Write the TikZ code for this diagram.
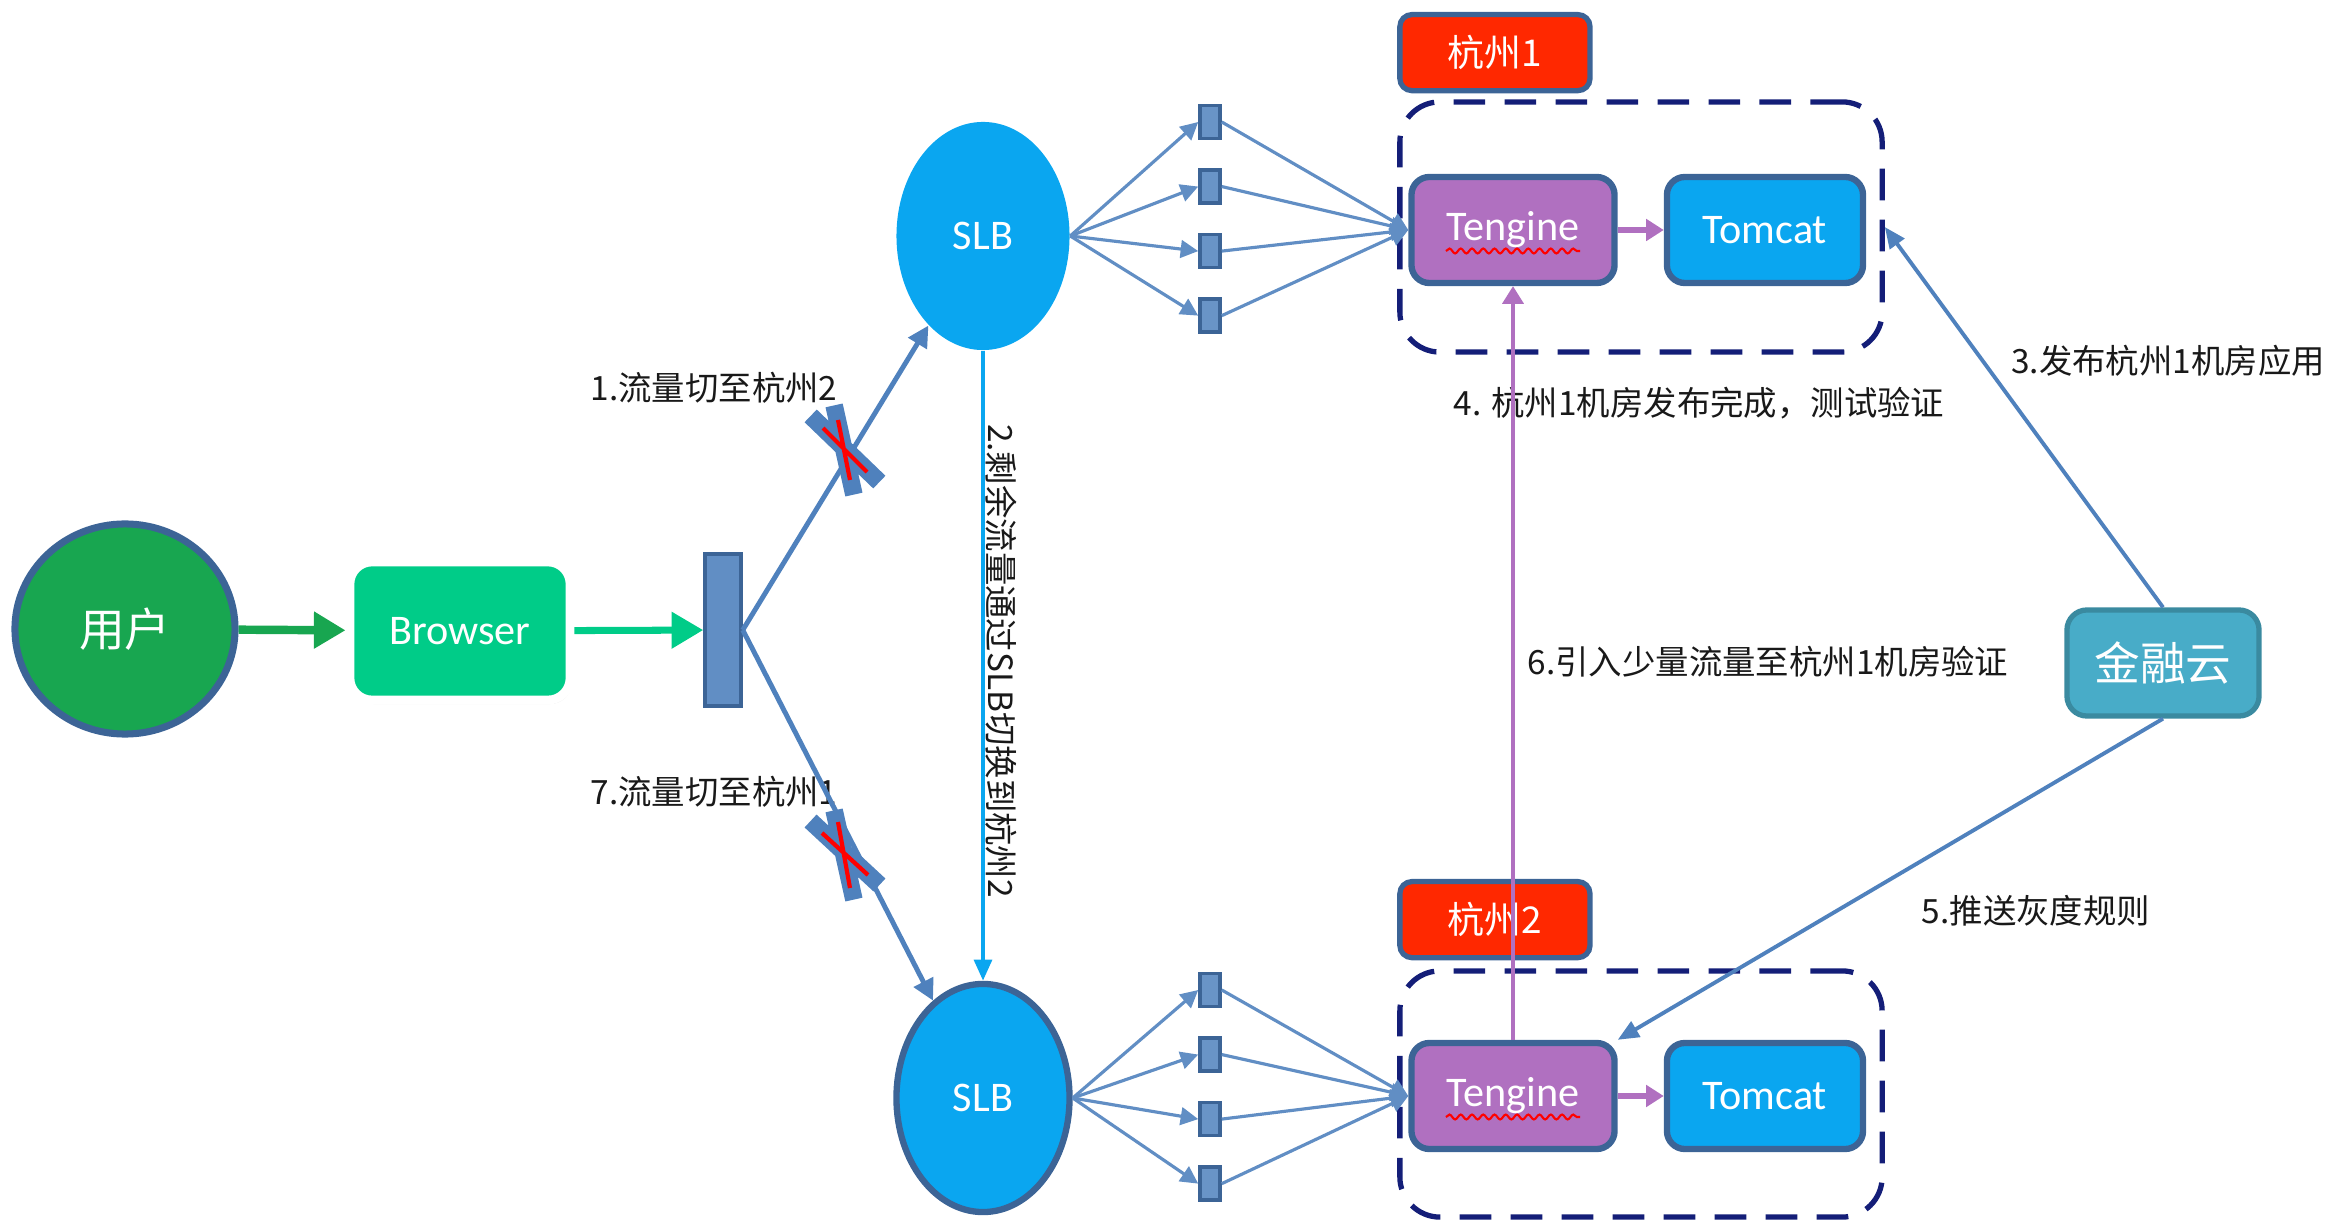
\documentclass[tikz,border=0pt]{standalone}
\usepackage{fontspec}
\setmainfont{Carlito}
\newfontfamily\cjk{Noto Sans CJK SC}
\usepackage{xcolor}
\usepackage{tikz}
\usetikzlibrary{positioning, shapes.geometric, arrows.meta, shadows, decorations.pathmorphing}

\definecolor{userGreen}{RGB}{24,166,80}
\definecolor{mint}{RGB}{0,204,136}
\definecolor{steel}{RGB}{79,129,189}
\definecolor{steelDark}{RGB}{60,100,150}
\definecolor{slbBlue}{RGB}{10,166,240}
\definecolor{navyDash}{RGB}{20,30,120}
\definecolor{tagRed}{RGB}{255,40,0}
\definecolor{tenginePurple}{RGB}{176,112,192}
\definecolor{cloudTeal}{RGB}{72,172,200}

\begin{document}
\begin{tikzpicture}[x=0.01cm, y=-0.01cm, node distance=0.28cm,
    every node/.style={font=\fontsize{12}{14}\selectfont},
    usernode/.style={ellipse, draw=steelDark, line width=2pt, fill=userGreen, text=white, minimum width=2.2cm, minimum height=2.1cm, font=\cjk\fontsize{13}{15}\selectfont},
    browsernode/.style={rectangle, rounded corners=0.22cm, draw=white, line width=2.5pt, fill=mint, text=white, minimum width=2.2cm, minimum height=1.38cm, drop shadow={opacity=0.18, shadow xshift=0.02cm, shadow yshift=-0.04cm}},
    splitter/.style={rectangle, draw=steelDark, line width=1pt, fill=steel!90!white, minimum width=0.36cm, minimum height=1.52cm},
    slbnode/.style={ellipse, fill=slbBlue, text=white, minimum width=1.73cm, minimum height=2.28cm},
    port/.style={rectangle, draw=steelDark, line width=1pt, fill=steel!85!white, minimum width=0.2cm, minimum height=0.33cm, inner sep=0pt},
    zone/.style={rectangle, rounded corners=0.4cm, draw=navyDash, line width=1.5pt, dash pattern=on 9pt off 5.5pt, minimum width=4.82cm},
    sitetag/.style={rectangle, rounded corners=0.12cm, draw=steelDark, line width=1.5pt, fill=tagRed, text=white, minimum width=1.9cm, minimum height=0.76cm, font=\cjk\fontsize{10.5}{12}\selectfont},
    tenginenode/.style={rectangle, rounded corners=0.18cm, draw=steelDark, line width=1.8pt, fill=tenginePurple, text=white, minimum width=2.03cm, minimum height=1.06cm},
    tomcatnode/.style={tenginenode, fill=slbBlue, minimum width=1.96cm},
    cloudnode/.style={rectangle, rounded corners=0.2cm, draw=cloudTeal!80!black, line width=1.5pt, fill=cloudTeal, text=white, minimum width=1.92cm, minimum height=1.06cm, font=\cjk\fontsize{13}{15}\selectfont},
    notetext/.style={font=\cjk\fontsize{9.5}{11}\selectfont, text=black!90},
    greenarrow/.style={-{Triangle[length=9pt, width=10pt]}, line width=2.4pt},
    flowline/.style={-{Triangle[length=6pt, width=6pt]}, line width=1.4pt, steel},
    fanline/.style={-{Triangle[length=5pt, width=5pt]}, line width=0.9pt, steel!90!white},
    purplearrow/.style={-{Triangle[length=5pt, width=6pt]}, tenginePurple},
    cloudarrow/.style={-{Triangle[length=6pt, width=5pt]}, line width=1.1pt, steel},
    cutbar/.style={steel, line width=5pt, line cap=rect},
    cutx/.style={red, line width=1.2pt},
    squiggle/.style={red, line width=0.6pt, decorate, decoration={snake, segment length=3.2pt, amplitude=0.7pt}}]

    \useasboundingbox (0,0) rectangle (2342,1225);

    % Zones
    \node[zone, minimum height=2.5cm] (zoneA) at (1641,227) {};
    \node[zone, minimum height=2.46cm] (zoneB) at (1641,1094) {};
    \node[sitetag] (tagA) [above right=0.06cm and 0cm of zoneA.north west] {杭州1};
    \node[sitetag] (tagB) [above right=0.08cm and 0cm of zoneB.north west] {杭州2};

    % Nodes
    \node[usernode] (user) at (125,629) {用户};
    \node[browsernode] (browser) at (460,631) {Browser};
    \node[splitter] (bar) at (723,630) {};
    \node[slbnode] (slbA) at (983,236) {SLB};
    \node[slbnode, draw=steelDark, line width=1.8pt] (slbB) at (983,1098) {SLB};

    \node[port] (pa1) at (1210,122) {};
    \node[port] (pa2) [below=of pa1] {};
    \node[port] (pa3) [below=of pa2] {};
    \node[port] (pa4) [below=of pa3] {};
    \node[port] (pb1) at (1210,990) {};
    \node[port] (pb2) [below=of pb1] {};
    \node[port] (pb3) [below=of pb2] {};
    \node[port] (pb4) [below=of pb3] {};

    \node[tenginenode] (tengineA) at (1513,230) {Tengine};
    \node[tomcatnode] (tomcatA) [right=0.46cm of tengineA] {Tomcat};
    \node[tenginenode] (tengineB) at (1513,1096) {Tengine};
    \node[tomcatnode] (tomcatB) [right=0.46cm of tengineB] {Tomcat};
    \node[cloudnode] (cloud) at (2163,663) {金融云};

    % Notes
    \node[notetext] (noteCutTwo) at (714,388) {1.流量切至杭州2};
    \node[notetext] (noteCutOne) at (714,792) {7.流量切至杭州1};
    \node[notetext, rotate=-90] (noteSwitch) at (1001,661) {2.剩余流量通过SLB切换到杭州2};
    \node[notetext] (noteTest) at (1699,403) {4. 杭州1机房发布完成，测试验证};
    \node[notetext] (notePublish) at (2168,361) {3.发布杭州1机房应用};
    \node[notetext] (noteGray) at (1768,662) {6.引入少量流量至杭州1机房验证};
    \node[notetext] (notePush) at (2036,911) {5.推送灰度规则};

    % Arrows
    \draw[greenarrow, userGreen] (user) -- (browser);
    \draw[greenarrow, mint, line width=2pt] (browser) -- (bar);
    \draw[flowline] (bar.east) -- (slbA);
    \draw[flowline] (bar.east) -- (slbB);
    \draw[-{Triangle[length=6pt, width=5pt]}, slbBlue, line width=1.2pt] (slbA) -- (slbB);

    \draw[fanline] (slbA.east) -- (pa1.west);
    \draw[fanline] (slbA.east) -- (pa2.west);
    \draw[fanline] (slbA.east) -- (pa3.west);
    \draw[fanline] (slbA.east) -- (pa4.west);
    \draw[fanline] (pa1.east) -- (tengineA.west);
    \draw[fanline] (pa2.east) -- (tengineA.west);
    \draw[fanline] (pa3.east) -- (tengineA.west);
    \draw[fanline] (pa4.east) -- (tengineA.west);
    \draw[fanline] (slbB.east) -- (pb1.west);
    \draw[fanline] (slbB.east) -- (pb2.west);
    \draw[fanline] (slbB.east) -- (pb3.west);
    \draw[fanline] (slbB.east) -- (pb4.west);
    \draw[fanline] (pb1.east) -- (tengineB.west);
    \draw[fanline] (pb2.east) -- (tengineB.west);
    \draw[fanline] (pb3.east) -- (tengineB.west);
    \draw[fanline] (pb4.east) -- (tengineB.west);

    \draw[purplearrow, line width=1.8pt] (tengineA) -- (tomcatA);
    \draw[purplearrow, line width=1.8pt] (tengineB) -- (tomcatB);
    \draw[purplearrow, line width=0.9pt] (tengineB) -- (tengineA);
    \draw[cloudarrow] (cloud.north) -- (zoneA.east);
    \draw[cloudarrow] (cloud.south) -- (tengineB.north east);

    % Cut marks
    \draw[cutbar] (817,422) -- (873,476) (836,414) -- (852,486);
    \draw[cutx] (823,428) -- (867,472) (838,420) -- (850,480);
    \draw[cutbar] (817,827) -- (873,879) (836,819) -- (852,891);
    \draw[cutx] (822,833) -- (868,875) (838,822) -- (850,888);

    % Spell marks
    \draw[squiggle] ([xshift=-0.67cm, yshift=-0.21cm]tengineA.center) -- ([xshift=0.67cm, yshift=-0.21cm]tengineA.center);
    \draw[squiggle] ([xshift=-0.67cm, yshift=-0.21cm]tengineB.center) -- ([xshift=0.67cm, yshift=-0.21cm]tengineB.center);

\end{tikzpicture}
\end{document}
